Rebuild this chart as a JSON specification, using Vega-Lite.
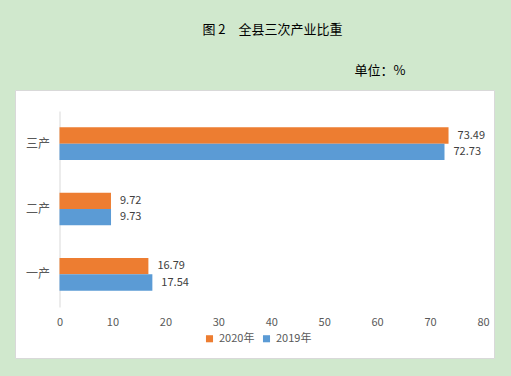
{
  "$schema": "https://vega.github.io/schema/vega-lite/v6.json",
  "width": 479,
  "height": 268,
  "autosize": {"type": "none"},
  "padding": {"left": 15, "top": 90, "right": 17, "bottom": 18},
  "background": "#d0e8cd",
  "config": {
    "view": {"fill": "white", "stroke": "#d9d9d9"},
    "font": "Noto Sans CJK SC"
  },
  "title": {
    "text": "图 2　全县三次产业比重",
    "anchor": "middle",
    "dx": 18,
    "offset": 27,
    "fontSize": 13,
    "fontWeight": "normal",
    "color": "#000000",
    "font": "Noto Sans CJK SC"
  },
  "data": {
    "values": [
      {"产业": "三产", "年份": "2020年", "比重": 73.49},
      {"产业": "三产", "年份": "2019年", "比重": 72.73},
      {"产业": "二产", "年份": "2020年", "比重": 9.72},
      {"产业": "二产", "年份": "2019年", "比重": 9.73},
      {"产业": "一产", "年份": "2020年", "比重": 16.79},
      {"产业": "一产", "年份": "2019年", "比重": 17.54}
    ]
  },
  "encoding": {
    "y": {
      "field": "产业",
      "type": "nominal",
      "sort": ["三产", "二产", "一产"],
      "scale": {"range": [21, 217], "paddingInner": 0.5, "paddingOuter": 0.25},
      "axis": {
        "orient": "left",
        "offset": -44.5,
        "domain": true,
        "domainColor": "#d9d9d9",
        "ticks": false,
        "tickSize": 0,
        "grid": false,
        "labelPadding": 10,
        "labelFontSize": 12,
        "labelColor": "#595959",
        "title": "单位：%",
        "titleAngle": 0,
        "titleAlign": "left",
        "titleBaseline": "middle",
        "titleX": 294.5,
        "titleY": -20,
        "titleFontSize": 13,
        "titleFontWeight": "normal",
        "titleColor": "#000000"
      }
    },
    "yOffset": {"field": "年份", "type": "nominal", "sort": ["2020年", "2019年"]},
    "x": {
      "field": "比重",
      "type": "quantitative",
      "scale": {"domain": [-8.41, 82.08], "nice": false, "zero": false},
      "axis": {
        "orient": "bottom",
        "offset": -44,
        "values": [0, 10, 20, 30, 40, 50, 60, 70, 80],
        "domain": false,
        "ticks": false,
        "tickSize": 0,
        "grid": false,
        "labelPadding": 2,
        "labelFontSize": 11,
        "labelColor": "#595959",
        "title": null
      }
    }
  },
  "layer": [
    {
      "mark": {"type": "bar"},
      "encoding": {
        "color": {
          "field": "年份",
          "type": "nominal",
          "scale": {"domain": ["2020年", "2019年"], "range": ["#ED7D31", "#5B9BD5"]},
          "legend": {
            "title": null,
            "orient": "none",
            "direction": "horizontal",
            "legendX": 189,
            "legendY": 243,
            "symbolType": "square",
            "symbolSize": 50,
            "symbolStrokeWidth": 0,
            "labelFontSize": 11,
            "labelColor": "#595959",
            "labelOffset": 4,
            "columnPadding": 6
          }
        }
      }
    },
    {
      "mark": {"type": "text", "align": "left", "baseline": "middle", "dx": 9, "fontSize": 11, "color": "#404040"},
      "encoding": {"text": {"field": "比重", "type": "quantitative", "format": ".2f"}}
    }
  ]
}
